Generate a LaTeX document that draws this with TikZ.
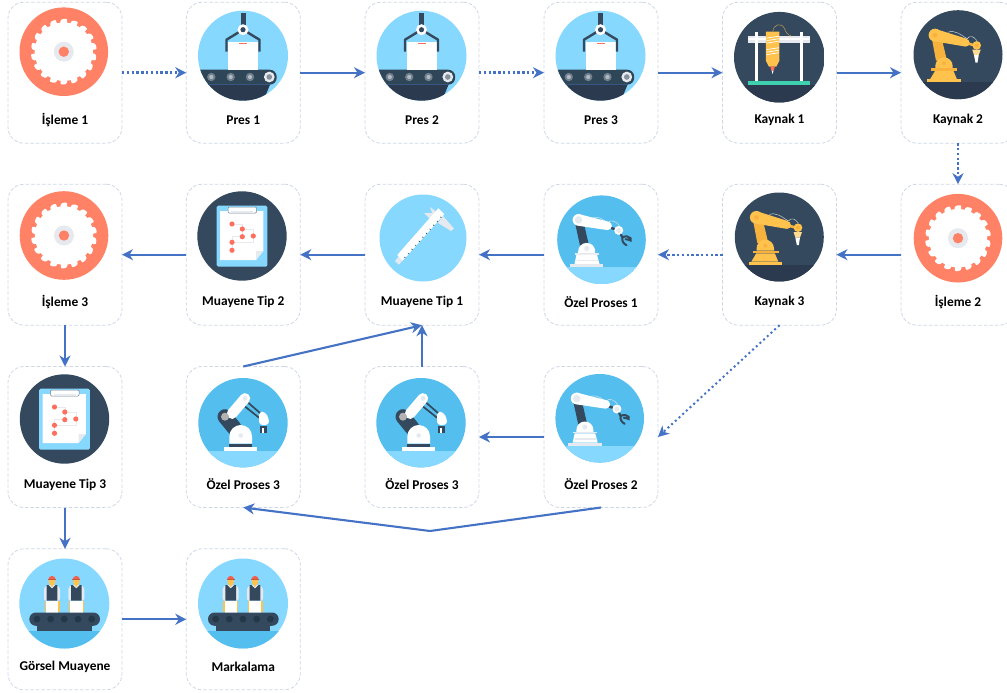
\documentclass[tikz,border=0pt]{standalone}
\usepackage{fontspec}
\setmainfont{Carlito}
\usetikzlibrary{arrows.meta}
\definecolor{flow}{HTML}{4472C4}
\definecolor{edge}{HTML}{CFD7E6}
\definecolor{sawc}{HTML}{FF8166}
\definecolor{sky}{HTML}{87D8FF}
\definecolor{midblue}{HTML}{54BFEE}
\definecolor{navy}{HTML}{34495E}
\definecolor{navyd}{HTML}{2C3A4F}
\definecolor{belt}{HTML}{2F4558}
\definecolor{gold}{HTML}{FFC34D}
\definecolor{goldd}{HTML}{F7B23E}
\definecolor{pale}{HTML}{E6E9EE}
\definecolor{teal}{HTML}{3FD0B0}
\definecolor{redd}{HTML}{FF6F5E}
\definecolor{hat}{HTML}{F0614B}
\definecolor{roll}{HTML}{24384A}
\tikzset{
  stepbox/.style={draw=edge,line width=.8pt,dash pattern=on 3.5pt off 2pt,rounded corners=16pt,fill=white,minimum width=114pt,minimum height=141pt,inner sep=0pt,outer sep=0pt},
  steplabel/.style={font=\fontsize{13.4}{15}\selectfont\bfseries,text=black,inner sep=0pt},
  solidflow/.style={draw=flow,line width=2.1pt,-{Stealth[length=11pt,width=11pt,inset=3.5pt]}},
  dotflow/.style={draw=flow,line width=2.4pt,dash pattern=on 2.4pt off 2.4pt,-{Stealth[length=11pt,width=11pt,inset=3.5pt]}},
  dotdiag/.style={draw=flow,line width=2pt,dash pattern=on 2pt off 3pt,-{Stealth[length=11pt,width=11pt,inset=3.5pt]}},
  saw/.pic={
    \fill[sawc] (0,0) circle (44.3);
    \fill[white] (0,0) circle (29.2);
    \foreach \a in {0,20,...,340}{\fill[white,rotate=\a,rounded corners=.8pt] (-3.4,-28) -- (-3.4,-31.2) -- (-1,-32.8) -- (3.2,-32.8) -- (3.2,-28) -- cycle;}
    \fill[pale] (0,0) circle (10);
    \fill[sawc] (0,0) circle (5.2);
  },
  press/.pic={
    \begin{scope}
      \clip (0,0) circle (45);
      \fill[sky] (-46,-46) rectangle (46,46);
      \fill[navyd] (-46,29) -- (27,29) -- (20,46) -- (-46,46) -- cycle;
      \fill[belt,rounded corners=7pt] (-60,14) rectangle (33.7,29);
      \draw[flow!40!belt,line width=.5pt] (-46,28.6) -- (27,28.6);
    \end{scope}
    \fill[white] (-15,-14) rectangle (15.3,14);
    \fill[redd] (-4,-13) rectangle (4,-11.4);
    \draw[navy,line width=2.4pt,line join=round] (-16.5,-4) -- (-16.5,-16) -- (0,-26) -- (16.5,-16) -- (16.5,-4);
    \fill[navy] (-2.5,-43) rectangle (2.5,-30);
    \fill[white] (0,-26) circle (5.5);
    \fill[navy] (0,-26) circle (2.6);
    \foreach \x in {-31.7,-12.3,7}{\fill[navy!70!white] (\x,21.3) circle (4.2);\fill[pale!70!navy] (\x,21.3) circle (2.1);}
    \fill[pale] (26.3,21.3) circle (5.4);
    \fill[navy!60!white] (26.3,21.3) circle (2.8);
  },
  weldframe/.pic={
    \begin{scope}
      \clip (0,0) circle (45.3);
      \fill[navy] (-46,-46) rectangle (46,46);
      \fill[navyd] (-46,27.8) rectangle (46,46);
    \end{scope}
    \fill[pale] (-31,-21.5) rectangle (31,-14);
    \fill[white] (-31,-19.5) rectangle (31,-17.5);
    \fill[white] (-24,-25.5) rectangle (-21,24.5);
    \fill[white] (21,-25.5) rectangle (24,24.5);
    \fill[teal] (-31,24.2) rectangle (31,27.8);
    \draw[gold!70!navy,line width=.5pt] (-6.5,-25.5) .. controls (-6,-33) and (2,-35) .. (5,-29) .. controls (7,-24) and (8,-23) .. (12,-21);
    \fill[gold] (-13.4,-25.5) -- (0,-25.5) -- (0,3.5) -- (-3,9.5) -- (-10.4,9.5) -- (-13.4,3.5) -- cycle;
    \foreach \y in {-20,-17.5,-15,-8.5,-6,-3.5}{\draw[white,line width=.7pt] (-13,\y+1) -- (-0.4,\y-1);}
    \fill[redd] (-9,9.5) -- (-4.5,9.5) -- (-5.5,13.5) -- (-8,13.5) -- cycle;
    \fill[white] (-7.6,13.5) -- (-5.8,13.5) -- (-6.7,17) -- cycle;
  },
  weldarm/.pic={
    \begin{scope}
      \clip (0,0) circle (44.5);
      \fill[navy] (-46,-46) rectangle (46,46);
      \fill[navyd] (-46,27.7) rectangle (46,46);
    \end{scope}
    \fill[goldd] (-26.5,-18) -- (-16.5,-17) -- (-11,6) -- (-22,6) -- cycle;
    \fill[gold] (-22.7,13.7) -- (-22.7,11.4) arc[start angle=180,end angle=360,radius=8.7] -- (-5.3,13.7) -- cycle;
    \fill[goldd] (-14,8.7) circle (2);
    \fill[goldd] (-26.7,13.7) rectangle (-.7,16.3);
    \fill[gold] (-23,16.3) -- (-4.5,16.3) -- (-1,24.7) -- (-28,24.7) -- cycle;
    \fill[gold] (-30.7,24.7) rectangle (2.7,27.7);
    \draw[pale,line width=.4pt] (-10,-22.5) .. controls (-3,-25) and (3,-20) .. (9,-16) .. controls (12,-20) and (16,-18) .. (19,-14);
    \draw[goldd,line width=2.6pt] (7,-12) -- (16,-9.5);
    \fill[gold] (-23,-25.9) -- (8.5,-16) -- (7,-8.2) -- (-23,-13.3) -- cycle;
    \fill[gold] (-23,-19.6) circle (6.4);
    \fill[gold] (7.7,-12) circle (3.9);
    \fill[goldd] (-23,-19.6) circle (2.4);
    \fill[gold] (18.7,-9.3) circle (4.3);
    \fill[goldd] (18.7,-9.3) circle (2);
    \fill[gold!60!white] (14.3,-5) -- (22.7,-5) -- (20.7,.5) -- (16,.5) -- cycle;
    \fill[white] (16,.5) -- (20.7,.5) -- (19.5,8) -- (17.5,8) -- cycle;
  },
  whitearm/.pic={
    \begin{scope}
      \clip (0,0) circle (44.3);
      \fill[midblue] (-46,-46) rectangle (46,46);
      \fill[sky] (-46,27.7) rectangle (46,46);
    \end{scope}
    \fill[navy] (-26.5,-17) -- (-18,-18) -- (-12.5,6) -- (-21.5,6) -- cycle;
    \fill[white] (-23.3,13.7) -- (-23.3,11.7) arc[start angle=180,end angle=360,radius=8.5] -- (-6.3,13.7) -- cycle;
    \fill[pale] (-14.8,8.7) circle (2.6);
    \fill[pale] (-26.7,13.7) rectangle (-2.7,15);
    \fill[white] (-25,15) -- (-4.5,15) -- (-2,24.3) -- (-27,24.3) -- cycle;
    \fill[pale] (-24.5,20) rectangle (-3.5,21.3);
    \fill[pale] (-31.5,24.3) rectangle (1.8,27.7);
    \draw[navy,line width=2.4pt] (6,-13) -- (17,-9.3);
    \draw[pale,line width=.4pt] (-9,-22) .. controls (0,-24) and (3,-18) .. (6,-17) .. controls (10,-21) and (15,-18) .. (18,-14);
    \fill[white] (-23,-25.7) -- (7,-18) -- (5.5,-9.7) -- (-23,-13.9) -- cycle;
    \fill[white] (-23,-19.8) circle (5.9);
    \fill[white] (6.2,-13.9) circle (4.2);
    \fill[pale] (-23,-19.8) circle (3.8);
    \fill[white] (17.2,-9.3) circle (4.5);
    \fill[pale] (17.2,-9.3) circle (2.5);
    \draw[navy,line width=2.2pt,line cap=round] (19.5,-5) -- (21,-2.3);
    \draw[navy,line width=2pt,line cap=round] (21,-2.3) .. controls (24,-4) and (27,-3.5) .. (29,-1.5) -- (29,.8) -- (27,0) -- (24,-.5);
    \draw[navy,line width=2pt,line cap=round] (21,-2.3) .. controls (20,1) and (22,4) .. (25,5.5);
  },
  gripper/.pic={
    \begin{scope}
      \clip (0,0) circle (44.7);
      \fill[midblue] (-46,-46) rectangle (46,46);
      \fill[sky] (-46,28) rectangle (46,46);
    \end{scope}
    \draw[navy,line width=1.7pt] (4,-21) -- (19,-8);
    \draw[navy,line width=1.7pt] (1,-17) -- (16,-5);
    \draw[navy,line width=15pt,line cap=round] (-18,-6) -- (-9,5);
    \draw[white,line width=10.5pt,line cap=round] (-11,-9) -- (2,-24.3);
    \fill[pale] (2,-24.3) circle (2.4);
    \fill[black!30!white] (-18,-6) circle (4);
    \fill[white] (-13.6,21) -- (-13.6,13.6) arc[start angle=180,end angle=360,radius=11.3] -- (9,21) -- cycle;
    \fill[pale] (-2.3,12.8) circle (2.3);
    \fill[navy] (-13.6,21) rectangle (9,24.7);
    \fill[white] (-19.3,24.7) rectangle (14.3,28);
    \fill[white,rounded corners=3.5pt] (16,-11) -- (22,-11) -- (26,-4) -- (26,2.3) -- (16,2.3) -- cycle;
    \fill[navy] (17,3) rectangle (23.7,10);
    \fill[white] (19.3,5) rectangle (21.3,10);
  },
  clipboard/.pic={
    \fill[navy] (0,0) circle (44.7);
    \fill[sky,rounded corners=1.5pt] (-25.3,-30.3) rectangle (25.3,30.7);
    \fill[white] (-22,-25) -- (21.3,-25) -- (21.3,15) -- (14,24) -- (-22,24) -- cycle;
    \fill[pale] (21.3,15) -- (14,15) -- (14,24) -- cycle;
    \draw[pale,line width=.6pt] (-10,-12) -- (0.3,-12) -- (0.3,0.7) -- (-10,0.7) -- (-10,14.3);
    \draw[pale,line width=.6pt] (0.3,-7) -- (11.3,-7) -- (11.3,6.3) -- (-10,6.3);
    \foreach \p in {(-10,-12),(0.3,-7),(0.3,0.7),(11.3,0),(-10,6.3),(-10,14.3)}{\fill[redd] \p circle (2.6);}
    \fill[white,draw=navy!70!white,line width=.5pt,rounded corners=1pt] (-14,-29) rectangle (14.5,-23);
    \fill[pale] (-11,-25) rectangle (11,-23.4);
  },
  caliper/.pic={
    \fill[sky] (0,0) circle (43.5);
    \fill[pale] (1,-25) -- (12,-25) -- (12,-16) -- (7,-19) -- cycle;
    \fill[pale] (7,-31) -- (12,-27.3) -- (14,-24) -- (9.5,-24) -- cycle;
    \fill[pale] (20,-22) -- (31,-9.5) -- (28,-7) -- (15,-15) -- cycle;
    \fill[pale] (-28,23) -- (-24,26.7) -- (-19.7,21.3) -- (-24,18) -- cycle;
    \fill[white] (-25.7,17) -- (-20.3,22.7) -- (21.3,-23.7) -- (15.3,-29.7) -- cycle;
    \foreach \t in {0,1,...,10}{\draw[navy,line width=.6pt] ({-17.5+3.6*\t},{20-4.02*\t}) -- ({-18.7+3.6*\t},{19-4.02*\t});}
  },
  workers/.pic={
    \begin{scope}
      \clip (0,0) circle (45);
      \fill[sky] (-46,-46) rectangle (46,46);
      \fill[midblue] (-46,27.7) rectangle (46,46);
    \end{scope}
    \foreach \x in {-12.3,12}{
      \begin{scope}[shift={(\x,0)}]
        \fill[pale,rounded corners=1.5pt] (-8,-3) -- (-8,-15.5) -- (-5,-18.5) -- (5,-18.5) -- (8,-15.5) -- (8,-3) -- cycle;
        \fill[gold] (-7.5,-3) rectangle (7.5,8);
        \fill[white] (-6.2,-3) rectangle (6.2,9);
        \fill[gold] (-3,-24) -- (3,-24) -- (3,-20.5) -- (0,-16.5) -- (-3,-20.5) -- cycle;
        \fill[navy] (-5.3,-18.5) -- (-3.7,-18.5) -- (0,-15) -- (3.7,-18.5) -- (5.3,-18.5) -- (5.3,-3) -- (-5.3,-3) -- cycle;
        \fill[hat] (-3.6,-24) arc[start angle=180,end angle=360,radius=3.6] -- cycle;
        \fill[hat!85!black] (-3.9,-24.2) rectangle (3.9,-23.2);
      \end{scope}
    }
    \fill[navy,rounded corners=6.6pt] (-35,9) rectangle (35.7,22.3);
    \foreach \x in {-27.3,-13.7,0,13.7,27.3}{\fill[roll] (\x,15.6) circle (3.4);}
    \fill[navy] (-27.3,22.3) rectangle (27.3,27.4);
  }
}
\newcommand{\station}[7]{%
  \node[stepbox] (#1) at (#2,#3) {};
  \node[steplabel] (#1t) at (#2,#3+47.5) {#4};
  \pic at (#6,#7) {#5};
}
\begin{document}
\begin{tikzpicture}[x=1pt,y=-1pt]
\useasboundingbox (0,0) rectangle (1007,693);
\station{a1}{65}{72.7}{İşleme 1}{saw}{63.8}{51.7}
\station{p1}{243.3}{72.7}{Pres 1}{press}{243}{55.7}
\station{p2}{422}{72.7}{Pres 2}{press}{421.5}{55.7}
\station{p3}{601}{72.7}{Pres 3}{press}{600.5}{55.7}
\station{k1}{779.5}{72.7}{Kaynak 1}{weldframe}{779.3}{57.2}
\station{k2}{958}{72.7}{Kaynak 2}{weldarm}{958}{54.7}
\station{i3}{65}{254.7}{İşleme 3}{saw}{64}{235.5}
\station{m2}{243.3}{254.7}{Muayene Tip 2}{clipboard}{242}{236}
\station{m1}{422}{254.7}{Muayene Tip 1}{caliper}{423}{238}
\station{o1}{601}{254.7}{Özel Proses 1}{whitearm}{601.5}{239.7}
\station{k3}{779.5}{254.7}{Kaynak 3}{weldarm}{779.3}{237}
\station{i2}{958}{254.7}{İşleme 2}{saw}{958}{238.2}
\station{m3}{65}{437}{Muayene Tip 3}{clipboard}{64.5}{419}
\station{u1}{243.3}{437}{Özel Proses 3}{gripper}{243}{422.7}
\station{u2}{422}{437}{Özel Proses 3}{gripper}{421}{422.7}
\station{o2}{601}{437}{Özel Proses 2}{whitearm}{599.7}{418.3}
\station{g}{65}{619.3}{Görsel Muayene}{workers}{64.3}{603.5}
\station{mk}{243.3}{619.3}{Markalama}{workers}{243}{603.5}
\coordinate (bend) at (430,531);
\draw[dotflow] (a1.east) -- (p1.west);
\draw[solidflow] (p1.east) -- (p2.west);
\draw[dotflow] (p2.east) -- (p3.west);
\draw[solidflow] (p3.east) -- (k1.west);
\draw[solidflow] (k1.east) -- (k2.west);
\draw[dotflow] (k2.south) -- (i2.north);
\draw[solidflow] (i2.west) -- (k3.east);
\draw[dotflow] (k3.west) -- (o1.east);
\draw[solidflow] (o1.west) -- (m1.east);
\draw[solidflow] (m1.west) -- (m2.east);
\draw[solidflow] (m2.west) -- (i3.east);
\draw[solidflow] (i3.south) -- (m3.north);
\draw[solidflow] (m3.south) -- (g.north);
\draw[solidflow] (g.east) -- (mk.west);
\draw[dotdiag] (k3.south) -- (o2.east);
\draw[solidflow] (o2.west) -- (u2.east);
\draw[solidflow] (u2.north) -- (m1.south);
\draw[solidflow] (u1.north) -- (m1.south);
\draw[solidflow] (o2.south) -- (bend) -- (u1.south);
\end{tikzpicture}
\end{document}
